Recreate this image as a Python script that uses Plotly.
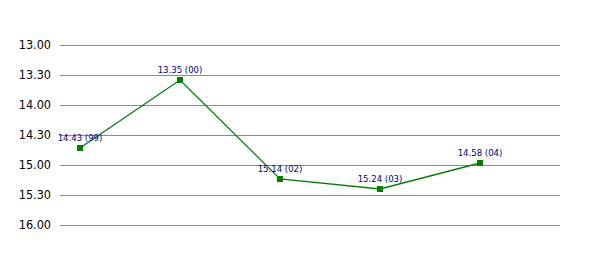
import plotly.graph_objects as go

# times in seconds (mm.ss labels)
years = ["99", "00", "02", "03", "04"]
labels = ["14.43", "13.35", "15.14", "15.24", "14.58"]
seconds = [883, 815, 914, 924, 898]
tick_vals = [780, 810, 840, 870, 900, 930, 960]
tick_text = ["13.00", "13.30", "14.00", "14.30", "15.00", "15.30", "16.00"]

xs = list(range(len(years)))
texts = [f"{l} ({y})" for l, y in zip(labels, years)]

font_narrow = "DejaVu Sans Condensed, Liberation Sans Narrow, sans-serif"

fig = go.Figure(go.Scatter(
    x=xs, y=seconds, mode="lines+markers+text",
    line=dict(color="#008000", width=1.3),
    marker=dict(symbol="square", size=6, color="#008000"),
    text=texts, textposition="top center",
    textfont=dict(family=font_narrow, size=9.5, color="#000080"),
    cliponaxis=False, showlegend=False,
))

fig.update_layout(
    width=600, height=255,
    margin=dict(l=60, r=40, t=43, b=28),
    paper_bgcolor="white", plot_bgcolor="white",
    xaxis=dict(range=[-0.2, 4.8], showgrid=False, showticklabels=False,
               zeroline=False, showline=False, ticks=""),
    yaxis=dict(range=[962, 778], tickvals=tick_vals, ticktext=tick_text,
               showgrid=True, gridcolor="#8c8c8c", gridwidth=1,
               zeroline=False, showline=False, ticks="",
               tickfont=dict(family=font_narrow, size=12.5, color="#000000"),
               ticklabelstandoff=8),
)

fig.write_html("out.html")
